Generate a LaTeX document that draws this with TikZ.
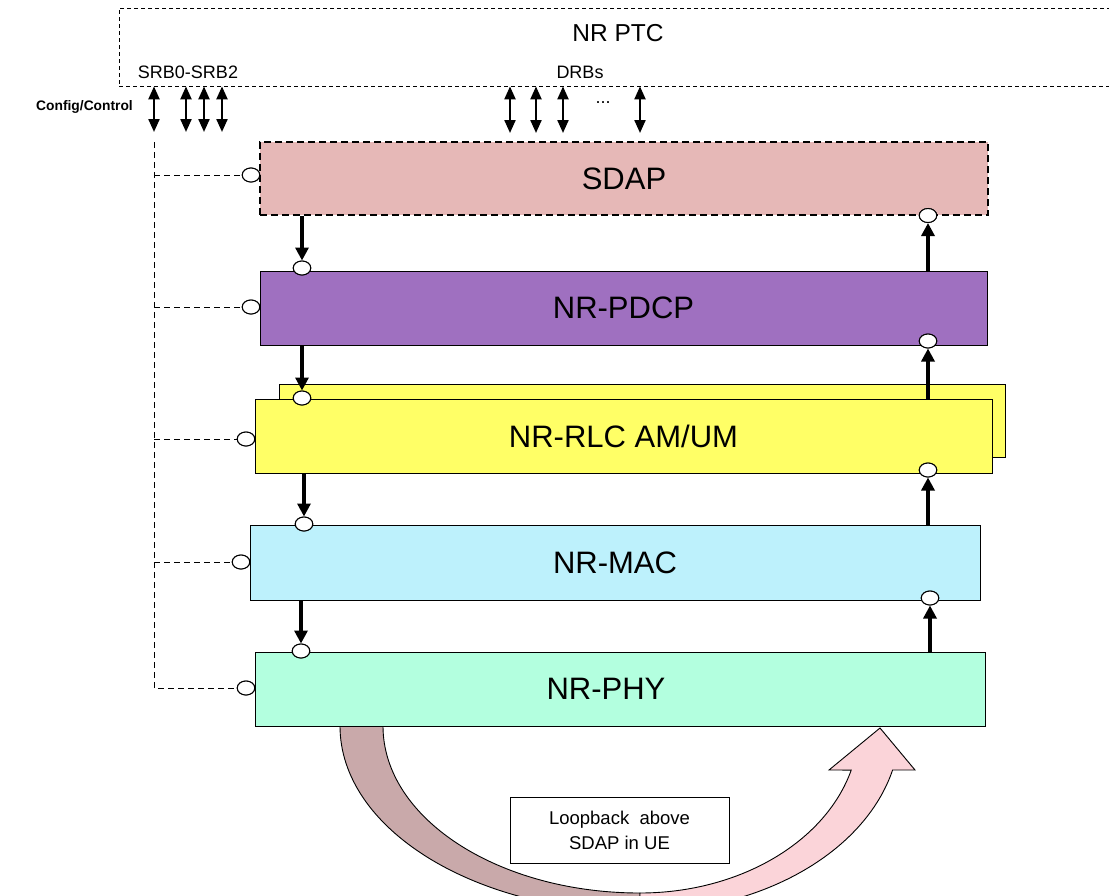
\documentclass[tikz,border=0pt]{standalone}
\usepackage{fontspec}
\setmainfont{Liberation Sans}
\usetikzlibrary{arrows.meta,shapes.geometric}
\definecolor{sdapc}{HTML}{E6B8B7}
\definecolor{pdcpc}{HTML}{9F70C0}
\definecolor{rlcc}{HTML}{FFFF66}
\definecolor{macc}{HTML}{BDF1FC}
\definecolor{phyc}{HTML}{B3FFDF}
\definecolor{loopdark}{HTML}{C9A9AA}
\definecolor{looplight}{HTML}{FBD4D9}
\begin{document}
\begin{tikzpicture}[x=1pt,y=-1pt,
  layer/.style={draw=black,line width=0.9pt,inner sep=0pt,anchor=center,
    font=\fontsize{31}{36}\selectfont},
  port/.style={ellipse,draw=black,fill=white,line width=1pt,
    minimum width=17.5pt,minimum height=14pt,inner sep=0pt},
  flowarrow/.style={line width=3.2pt,-{Triangle[length=13pt,width=13pt]}},
  dblarrow/.style={line width=2.2pt,
    {Triangle[length=13pt,width=11pt]}-{Triangle[length=13pt,width=11pt]}},
  ctl/.style={dashed,dash pattern=on 6pt off 4pt,line width=0.9pt},
  small/.style={font=\fontsize{18}{22}\selectfont,inner sep=0pt},
  loopband/.style={draw=black,line width=0.9pt}
]
\useasboundingbox (0,0) rectangle (1109,895);
\clip (0,0) rectangle (1109,895);

% PTC box
\node[draw,dash pattern=on 4pt off 3pt,line width=0.8pt,minimum width=1010pt,minimum height=78pt,inner sep=0pt]
  (ptc) at (624,47) {};
\node[font=\fontsize{24.5}{28}\selectfont,inner sep=0pt] (ptctxt) at (618,33) {NR PTC};
\node[small] (srbtxt) at (188,72) {SRB0-SRB2};
\node[small] (drbtxt) at (580,72) {DRBs};
\node[small,font=\bfseries\fontsize{13.8}{17}\selectfont,anchor=east] (cfg) at (133,107) {Config/Control};
\node[small] (dots) at (603,103) {...};

% loopback band
\path[loopband,fill=loopdark] (340,726)
  arc[start angle=180,end angle=270,x radius=300pt,y radius=186pt]
  -- (640,893)
  arc[start angle=270,end angle=180,x radius=257pt,y radius=167pt]
  -- cycle;
\path[loopband,fill=looplight] (640,893)
  arc[start angle=270,end angle=344.7,x radius=219pt,y radius=167pt]
  -- (829,770) -- (880,728) -- (915,770) -- (892.6,770)
  arc[start angle=346.3,end angle=270,x radius=260pt,y radius=186pt]
  -- cycle;
\node[draw=black,line width=0.9pt,minimum width=219pt,minimum height=66pt,inner sep=0pt,
  align=center,font=\fontsize{18.5}{25}\selectfont] (loop) at (619.5,830)
  {\raisebox{-3pt}{Loopback~ above}\\\raisebox{-3pt}{SDAP in UE}};

% layers
\node[layer,fill=sdapc,dashed,dash pattern=on 7pt off 4pt,line width=1.1pt,
  minimum width=728pt,minimum height=73pt] (sdap) at (624,178.5) {SDAP};
\node[layer,fill=pdcpc,minimum width=727pt,minimum height=74pt] (pdcp) at (623.5,308) {NR-PDCP};
\node[layer,fill=rlcc,minimum width=726pt,minimum height=73pt] (rlcb) at (642,420.5) {};
\node[layer,fill=rlcc,minimum width=737pt,minimum height=74pt] (rlc) at (623.5,436) {NR-RLC AM/UM};
\node[layer,fill=macc,minimum width=730pt,minimum height=75pt] (mac) at (615,562.5) {NR-MAC};
\node[layer,fill=phyc,minimum width=730pt,minimum height=74pt] (phy) at (620,689) {};
\node[layer,draw=none,fill=none] (phytxt) at (606,689) {NR-PHY};

% ports
\node[port] (sdapL) at (251,175) {};
\node[port] (sdapR) at (928,215.5) {};
\node[port] (pdcpT) at (302,268) {};
\node[port] (pdcpL) at (251,307) {};
\node[port] (pdcpR) at (928,341) {};
\node[port] (rlcT) at (302,398) {};
\node[port] (rlcL) at (246,439) {};
\node[port] (rlcR) at (928,470) {};
\node[port] (macT) at (304,524) {};
\node[port] (macL) at (241,562) {};
\node[port] (macR) at (930,598) {};
\node[port] (phyT) at (301,651) {};
\node[port] (phyL) at (246,688) {};

% downward flow
\draw[flowarrow] (sdap.south -| pdcpT) -- (pdcpT.north);
\draw[flowarrow] (pdcp.south -| rlcT) -- (rlcT.north);
\draw[flowarrow] (rlc.south -| macT) -- (macT.north);
\draw[flowarrow] (mac.south -| phyT) -- (phyT.north);
% upward flow
\draw[flowarrow] (phy.north -| macR) -- (macR.south);
\draw[flowarrow] (mac.north -| rlcR) -- (rlcR.south);
\draw[flowarrow] (rlc.north -| pdcpR) -- (pdcpR.south);
\draw[flowarrow] (pdcp.north -| sdapR) -- (sdapR.south);

% SRB / DRB double arrows
\coordinate (s0) at (154,132);
\coordinate (s1) at (186,132);
\coordinate (s2) at (204,132);
\coordinate (s3) at (222,132);
\coordinate (d1) at (510,133);
\coordinate (d2) at (536,133);
\coordinate (d3) at (563,133);
\coordinate (d4) at (640,133);
\foreach \c in {s0,s1,s2,s3,d1,d2,d3,d4}
  \draw[dblarrow] (ptc.south -| \c) -- (\c);

% config / control dashed tree
\coordinate (ctltop) at (154,142);
\coordinate (ctlbot) at (154,688);
\draw[ctl] (ctltop) -- (ctlbot) -- (phyL.west);
\foreach \p in {sdapL,pdcpL,rlcL,macL}
  \draw[ctl] (ctltop |- \p) -- (\p.west);

% redraw ports on top
\foreach \p in {sdapL,sdapR,pdcpT,pdcpL,pdcpR,rlcT,rlcL,rlcR,macT,macL,macR,phyT,phyL}
  \node[port] at (\p) {};
\end{tikzpicture}
\end{document}
